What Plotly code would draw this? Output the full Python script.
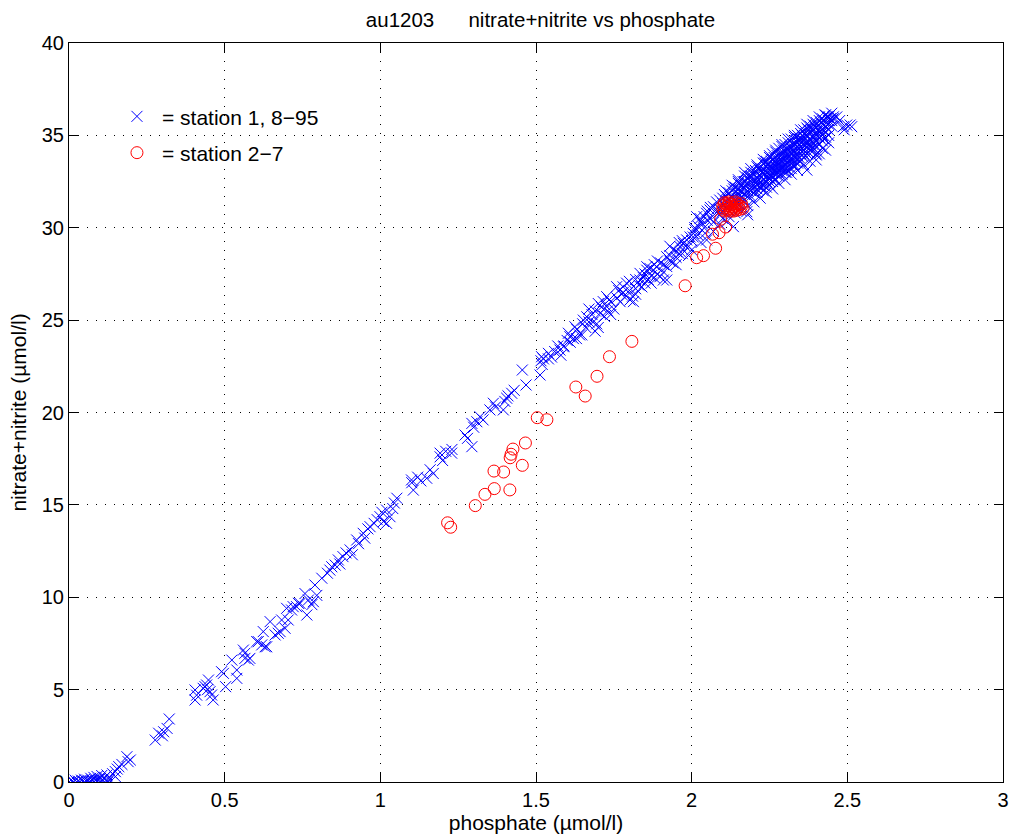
import plotly.graph_objects as go

# ---- station 1, 8-95 (blue x) : phosphate, nitrate+nitrite ----
st1_low = [
    (0.00, 0.0), (0.01, 0.05), (0.015, 0.0), (0.02, 0.1), (0.025, 0.0), (0.03, 0.05), (0.035, 0.0),
    (0.04, 0.1), (0.045, 0.05), (0.05, 0.0), (0.05, 0.15), (0.055, 0.05), (0.06, 0.1), (0.065, 0.0),
    (0.07, 0.2), (0.07, 0.05), (0.075, 0.1), (0.08, 0.0), (0.08, 0.25), (0.085, 0.1), (0.09, 0.05),
    (0.09, 0.3), (0.095, 0.15), (0.10, 0.0), (0.10, 0.2), (0.105, 0.35), (0.11, 0.1), (0.115, 0.25),
    (0.12, 0.05), (0.125, 0.0), (0.13, 0.15), (0.122, 0.38), (0.14, 0.45), (0.149, 0.29), (0.149, 0.56),
    (0.155, 0.7), (0.16, 0.83), (0.17, 0.95), (0.186, 1.37), (0.197, 1.19), (0.19, 1.1),
    (0.277, 2.27), (0.288, 2.64), (0.30, 2.5), (0.304, 2.72), (0.315, 2.9), (0.322, 3.41),
    (0.405, 4.44), (0.405, 4.98), (0.41, 4.7), (0.431, 5.07), (0.437, 5.16), (0.442, 5.25), (0.445, 5.0),
    (0.448, 5.52), (0.453, 4.89), (0.458, 4.71), (0.463, 4.44), (0.49, 5.97), (0.496, 5.88), (0.503, 5.16),
    (0.523, 6.6), (0.539, 6.06), (0.539, 5.61), (0.56, 7.14), (0.565, 6.97), (0.565, 6.69), (0.581, 6.69),
    (0.576, 6.6),
]
st1_mid = [
    (0.603, 7.6), (0.608, 7.6), (0.619, 7.42), (0.624, 8.14), (0.63, 7.32), (0.635, 7.32), (0.646, 8.68),
    (0.662, 7.96), (0.672, 8.05), (0.678, 8.14), (0.683, 8.77), (0.694, 8.32), (0.699, 9.4), (0.704, 8.77),
    (0.715, 9.31), (0.72, 9.49), (0.731, 9.49), (0.737, 9.67), (0.742, 9.67), (0.758, 10.2), (0.764, 9.04),
    (0.769, 9.85), (0.78, 9.6), (0.785, 9.76), (0.79, 10.66), (0.796, 10.1), (0.812, 11.03), (0.83, 11.3),
    (0.838, 11.47), (0.844, 11.65), (0.855, 11.74), (0.865, 12.02), (0.87, 11.8), (0.88, 12.2), (0.89, 12.4),
    (0.903, 12.56), (0.91, 12.3), (0.924, 13.1), (0.93, 12.9), (0.945, 13.46), (0.95, 13.2), (0.96, 13.7),
    (0.967, 13.82), (0.98, 14.0), (0.99, 14.2), (0.999, 14.36), (1.005, 14.6), (1.01, 14.1), (1.02, 14.72),
    (1.02, 14.0), (1.031, 14.36), (1.04, 14.8), (1.053, 15.36), (1.045, 15.1),
    (1.10, 16.35), (1.101, 16.2), (1.106, 15.8), (1.12, 16.5), (1.13, 16.3), (1.149, 16.44), (1.16, 16.9),
    (1.17, 16.7), (1.192, 17.6), (1.192, 17.8), (1.2, 17.4), (1.21, 17.9), (1.229, 17.8), (1.23, 18.0),
    (1.272, 18.78), (1.28, 18.6), (1.294, 18.15), (1.294, 19.41), (1.30, 19.2), (1.31, 19.5), (1.32, 19.77),
    (1.33, 19.6), (1.352, 20.14), (1.363, 20.5), (1.37, 20.3), (1.395, 20.14), (1.40, 20.6), (1.406, 20.77),
    (1.41, 20.9), (1.422, 21.04), (1.43, 21.2), (1.456, 22.3), (1.468, 21.49),
]
st1_upper = [
    (1.513, 22.03), (1.516, 22.8), (1.518, 23.02), (1.524, 22.9), (1.52, 22.6), (1.54, 22.9), (1.54, 23.2),
    (1.55, 23.0), (1.56, 23.3), (1.577, 23.38), (1.588, 23.56), (1.59, 23.6), (1.604, 24.29), (1.609, 24.1),
    (1.625, 24.64), (1.631, 24.5), (1.64, 24.2), (1.647, 24.2), (1.652, 25.0), (1.663, 25.18), (1.67, 24.9),
    (1.684, 24.9), (1.695, 24.8), (1.70, 24.6), (1.70, 25.9), (1.706, 25.37), (1.71, 25.7), (1.716, 26.0),
    (1.727, 25.73), (1.727, 26.27), (1.735, 26.1), (1.75, 25.6), (1.759, 26.81), (1.766, 26.6), (1.775, 26.4),
    (1.791, 27.0), (1.80, 26.6), (1.802, 26.09), (1.81, 26.3), (1.813, 26.0), (1.82, 26.7), (1.834, 27.17),
    (1.834, 27.53), (1.845, 27.3), (1.856, 27.7), (1.856, 27.89), (1.86, 27.2), (1.866, 27.8), (1.877, 27.71),
    (1.888, 27.89), (1.898, 27.35), (1.90, 28.1), (1.909, 27.17), (1.92, 27.17), (1.92, 28.43), (1.93, 28.2),
    (1.941, 28.8), (1.95, 28.4), (1.952, 28.7), (1.963, 28.97), (1.973, 29.16), (1.984, 29.34), (1.995, 29.5),
    (2.005, 29.7), (2.005, 29.5), (2.016, 30.6), (2.022, 30.06), (2.027, 30.5), (2.035, 30.2), (2.043, 29.7),
    (2.048, 30.78), (2.048, 29.34), (2.059, 30.96), (2.07, 31.14), (2.08, 31.4), (2.085, 30.8),
    (1.58, 23.1), (1.60, 23.9), (1.62, 24.0), (1.66, 24.6), (1.68, 25.3), (1.72, 25.2), (1.74, 26.0),
    (1.76, 26.2), (1.78, 26.8), (1.79, 26.3), (1.83, 26.9), (1.85, 27.0), (1.87, 27.4), (1.89, 27.5),
    (1.91, 28.0), (1.94, 28.1), (1.96, 28.6), (1.98, 29.0), (2.00, 29.3), (2.01, 29.9), (2.03, 30.3),
    (2.04, 30.0), (2.06, 30.5), (2.07, 30.3), (2.08, 31.0), (2.06, 31.1), (2.05, 30.4), (2.02, 29.6),
    (1.99, 29.0), (1.97, 28.6), (1.93, 28.5), (1.88, 27.3), (1.84, 26.8), (1.82, 27.2), (1.77, 26.0),
    (1.73, 25.5), (1.69, 25.5), (1.65, 24.8), (1.61, 23.8),
    (1.85, 27.5), (1.87, 27.0), (1.89, 28.2), (1.91, 27.6), (1.93, 29.0), (1.95, 28.0), (1.97, 29.3),
    (1.99, 28.5), (2.01, 30.0), (2.03, 29.2), (2.05, 30.9), (2.07, 29.8), (2.09, 30.2), (2.04, 30.6),
    (2.00, 28.8), (1.96, 29.2), (1.92, 27.9), (1.88, 28.0),
    (1.57, 23.6), (1.63, 24.0), (1.67, 25.6), (1.69, 24.4), (1.74, 25.3), (1.78, 26.5), (1.80, 27.1),
    (1.82, 26.4),
]
st1_deep = [
    (2.09, 31.0), (2.09, 31.5), (2.09, 30.7), (2.10, 31.3), (2.10, 30.9), (2.10, 31.6),
    (2.11, 31.1), (2.11, 31.7), (2.11, 31.4), (2.12, 31.2), (2.12, 31.9), (2.12, 31.5), (2.12, 30.9),
    (2.13, 31.6), (2.13, 31.3), (2.13, 32.0), (2.14, 31.5), (2.14, 31.9), (2.14, 31.2), (2.14, 32.2),
    (2.15, 31.8), (2.15, 32.1), (2.15, 31.4), (2.16, 31.7), (2.16, 32.3), (2.16, 32.0), (2.16, 31.5),
    (2.17, 32.1), (2.17, 31.8), (2.17, 32.5), (2.18, 32.0), (2.18, 32.4), (2.18, 31.7), (2.18, 32.7),
    (2.19, 32.3), (2.19, 32.0), (2.19, 32.8), (2.20, 32.2), (2.20, 32.6), (2.20, 32.9), (2.20, 31.9),
    (2.21, 32.5), (2.21, 32.1), (2.21, 33.0), (2.21, 32.7), (2.22, 32.4), (2.22, 32.8), (2.22, 33.1),
    (2.22, 32.2), (2.23, 32.6), (2.23, 33.2), (2.23, 32.9), (2.23, 32.3), (2.24, 32.8), (2.24, 33.3),
    (2.24, 32.5), (2.24, 33.0), (2.25, 33.1), (2.25, 32.7), (2.25, 33.5), (2.25, 32.9), (2.26, 33.0),
    (2.26, 33.4), (2.26, 32.8), (2.26, 33.7), (2.26, 33.2), (2.27, 33.3), (2.27, 32.9), (2.27, 33.6),
    (2.27, 33.1), (2.28, 33.5), (2.28, 33.2), (2.28, 33.8), (2.28, 33.0), (2.28, 33.4), (2.29, 33.6),
    (2.29, 33.3), (2.29, 34.0), (2.29, 33.1), (2.30, 33.7), (2.30, 33.4), (2.30, 34.1), (2.30, 33.2),
    (2.30, 33.9), (2.31, 33.8), (2.31, 34.2), (2.31, 33.5), (2.31, 33.3), (2.32, 34.0), (2.32, 33.7),
    (2.32, 34.3), (2.32, 33.5), (2.33, 34.1), (2.33, 33.8), (2.33, 34.5), (2.33, 33.6), (2.34, 34.2),
    (2.34, 34.6), (2.34, 33.9), (2.34, 34.4), (2.35, 34.4), (2.35, 34.0), (2.35, 34.8), (2.35, 34.2),
    (2.36, 34.5), (2.36, 34.9), (2.36, 34.2), (2.36, 34.7), (2.37, 34.6), (2.37, 35.0), (2.37, 34.4),
    (2.37, 34.93), (2.37, 33.12), (2.38, 34.8), (2.38, 35.1), (2.38, 34.5), (2.39, 34.9), (2.39, 35.3),
    (2.39, 34.6), (2.39, 34.5), (2.40, 35.0), (2.40, 35.4), (2.40, 34.7), (2.40, 33.67), (2.40, 33.94),
    (2.41, 35.2), (2.41, 35.3), (2.41, 34.9), (2.41, 34.0), (2.42, 35.3), (2.42, 35.6), (2.42, 35.0),
    (2.43, 35.5), (2.43, 35.74), (2.43, 34.2), (2.44, 35.6), (2.44, 35.3), (2.44, 36.0), (2.45, 35.8),
    (2.45, 35.5), (2.466, 36.0), (2.487, 35.47), (2.498, 35.56), (2.509, 35.56), (2.514, 35.47),
    (2.49, 35.3), (2.428, 36.1), (2.134, 30.06), (2.113, 30.33), (2.177, 30.87), (2.18, 30.7),
    (2.25, 32.3), (2.33, 33.3),
    (2.15, 32.5), (2.15, 31.2), (2.15, 32.4), (2.17, 31.5), (2.17, 32.8), (2.17, 32.3),
    (2.19, 31.7), (2.19, 33.0), (2.19, 32.5), (2.21, 31.9), (2.21, 33.3), (2.21, 32.3),
    (2.23, 32.0), (2.23, 33.5), (2.23, 33.0), (2.24, 32.2), (2.24, 33.6), (2.25, 33.8),
    (2.25, 32.5), (2.25, 33.3), (2.26, 32.5), (2.26, 34.0), (2.27, 32.6), (2.27, 34.1),
    (2.27, 33.5), (2.28, 32.8), (2.28, 34.3), (2.28, 33.6), (2.29, 32.9), (2.29, 34.4),
    (2.29, 33.8), (2.30, 33.0), (2.30, 34.5), (2.30, 33.6), (2.31, 33.1), (2.31, 34.6),
    (2.31, 34.0), (2.32, 33.2), (2.32, 34.8), (2.32, 34.1), (2.33, 33.4), (2.33, 34.9),
    (2.33, 34.2), (2.34, 33.5), (2.34, 35.0), (2.34, 33.7), (2.35, 33.6), (2.35, 35.1),
    (2.35, 34.6), (2.36, 33.8), (2.36, 35.3), (2.36, 34.0), (2.37, 34.0), (2.37, 35.4),
    (2.38, 34.2), (2.38, 35.5), (2.38, 34.0), (2.39, 34.3), (2.39, 35.6), (2.39, 35.0),
    (2.40, 34.4), (2.40, 35.7), (2.40, 35.2), (2.41, 34.5), (2.41, 35.8), (2.42, 34.7),
    (2.42, 35.9), (2.43, 34.9), (2.43, 35.2), (2.44, 35.0), (2.44, 35.8), (2.455, 35.9),
    (2.455, 36.0), (2.475, 35.8),
    (2.10, 30.5), (2.11, 32.0), (2.12, 30.6), (2.13, 32.3), (2.14, 30.8), (2.15, 32.6), (2.16, 30.9),
    (2.17, 33.0), (2.18, 31.2), (2.19, 33.2), (2.20, 31.4), (2.21, 33.4), (2.22, 31.6), (2.23, 33.7),
    (2.24, 31.9), (2.25, 33.9), (2.26, 32.1), (2.27, 34.2), (2.28, 32.4), (2.29, 34.5), (2.30, 32.6),
    (2.31, 34.8), (2.32, 32.9), (2.33, 35.0), (2.34, 33.1), (2.35, 35.3), (2.36, 33.4), (2.37, 35.6),
    (2.38, 33.6), (2.39, 35.8), (2.40, 34.0), (2.41, 36.0), (2.42, 34.3), (2.43, 36.1), (2.44, 34.6),
    (2.45, 36.2),
    (2.105, 31.8), (2.115, 31.0), (2.125, 31.7), (2.135, 32.1), (2.145, 31.6), (2.155, 32.0),
    (2.165, 32.5), (2.175, 31.9), (2.185, 32.8), (2.195, 32.1), (2.205, 33.1), (2.215, 32.6),
    (2.225, 33.0), (2.235, 32.4), (2.245, 33.4), (2.255, 32.8), (2.265, 33.8), (2.275, 33.0),
    (2.285, 34.0), (2.295, 33.4), (2.305, 34.3), (2.315, 33.7), (2.325, 34.5), (2.335, 34.0),
    (2.345, 34.8), (2.355, 34.3), (2.365, 35.1), (2.375, 34.6), (2.385, 35.3), (2.395, 34.8),
    (2.405, 35.5), (2.415, 35.1), (2.425, 35.8), (2.435, 35.4), (2.445, 35.9),
    (2.205, 32.4), (2.215, 33.2), (2.225, 32.2), (2.235, 33.5), (2.245, 32.7), (2.255, 33.6),
    (2.265, 32.6), (2.275, 33.9), (2.285, 33.2), (2.295, 34.2), (2.305, 33.0), (2.315, 34.4),
    (2.325, 33.4), (2.335, 34.7), (2.345, 33.8), (2.355, 35.0), (2.365, 34.1), (2.375, 35.3),
    (2.385, 34.3), (2.395, 35.5), (2.405, 34.6), (2.415, 35.7), (2.425, 34.8), (2.435, 36.0),
]
st1_points = st1_low + st1_mid + st1_upper + st1_deep
st1_phosphate = [p[0] for p in st1_points]
st1_nitrate = [p[1] for p in st1_points]

# ---- station 2-7 (red o) ----
st2_phosphate = [1.216, 1.226, 1.305, 1.336, 1.366, 1.416, 1.365, 1.396, 1.417, 1.420, 1.426, 1.456,
                 1.466, 1.504, 1.535, 1.628, 1.658, 1.696, 1.736, 1.808, 1.979, 2.016, 2.038, 2.077,
                 2.067, 2.088, 2.109, 2.093,
                 2.10, 2.10, 2.105, 2.11, 2.11, 2.115, 2.115, 2.12, 2.12, 2.125, 2.125, 2.13, 2.13,
                 2.135, 2.135, 2.14, 2.14, 2.145, 2.145, 2.15, 2.15, 2.155, 2.16, 2.16, 2.165, 2.12,
                 2.14, 2.105]
st2_nitrate = [14.03, 13.79, 14.96, 15.57, 15.88, 15.81, 16.83, 16.78, 17.55, 17.74, 18.02, 17.14,
               18.35, 19.72, 19.61, 21.38, 20.89, 21.96, 23.02, 23.85, 26.86, 28.38, 28.49, 28.89,
               29.65, 29.73, 30.04, 30.46,
               31.0, 31.2, 30.9, 31.1, 31.3, 30.95, 31.2, 31.05, 31.3, 30.9, 31.15, 31.0, 31.25,
               31.1, 30.9, 31.2, 31.0, 31.3, 30.95, 31.1, 31.25, 31.0, 31.15, 31.3, 31.05, 31.4,
               31.4, 31.35]

x_ticks = [0, 0.5, 1, 1.5, 2, 2.5, 3]
x_tick_labels = ["0", "0.5", "1", "1.5", "2", "2.5", "3"]
y_ticks = [0, 5, 10, 15, 20, 25, 30, 35, 40]
y_tick_labels = ["0", "5", "10", "15", "20", "25", "30", "35", "40"]

FONT = "Liberation Sans, Arial, Helvetica, sans-serif"
FS_TICK = 20
FS_LABEL = 21
FS_TITLE = 20.5

fig = go.Figure()
fig.add_trace(go.Scatter(
    x=st1_phosphate, y=st1_nitrate, mode="markers", name="= station 1, 8\u221295",
    legendgroup="a",
    marker=dict(symbol="x-thin-open", size=11, color="#0000ff", line=dict(color="#0000ff", width=1)),
))
fig.add_trace(go.Scatter(
    x=st2_phosphate, y=st2_nitrate, mode="markers", name="= station 2\u22127",
    legendgroup="b",
    marker=dict(symbol="circle-open", size=12, color="#ff0000", line=dict(color="#ff0000", width=1)),
))

axis_common = dict(
    showline=True, linecolor="black", linewidth=1, mirror="ticks",
    ticks="inside", ticklen=9, tickcolor="black", tickwidth=1,
    showgrid=True, gridcolor="black", gridwidth=1, griddash="1px,8px",
    zeroline=False, automargin=False,
    tickfont=dict(family=FONT, size=FS_TICK, color="black"),
)

fig.update_layout(
    width=1013, height=836,
    margin=dict(l=69, r=10, t=43, b=54, autoexpand=False),
    paper_bgcolor="white", plot_bgcolor="white",
    font=dict(family=FONT, size=FS_TICK, color="black"),
    title=dict(text="au1203" + "\u00a0" * 6 + "nitrate+nitrite vs phosphate",
               x=540.5 / 1013, xref="container", xanchor="center",
               y=1 - 20 / 836, yref="container", yanchor="middle",
               font=dict(family=FONT, size=FS_TITLE, color="black")),
    xaxis=dict(range=[0, 3], tickvals=x_ticks, ticktext=x_tick_labels,
               title=dict(text="phosphate (\u00b5mol/l)", standoff=3,
                          font=dict(family=FONT, size=FS_LABEL, color="black")),
               **axis_common),
    yaxis=dict(range=[0, 40], tickvals=y_ticks, ticktext=y_tick_labels,
               title=dict(text="nitrate+nitrite (\u00b5mol/l)", standoff=9,
                          font=dict(family=FONT, size=FS_LABEL, color="black")),
               **axis_common),
    showlegend=True,
    legend=dict(x=0.046, y=0.928, xanchor="left", yanchor="top",
                bgcolor="rgba(0,0,0,0)", borderwidth=0, itemwidth=40,
                traceorder="grouped", tracegroupgap=6,
                font=dict(family=FONT, size=FS_LABEL, color="black")),
)

fig.write_html(
    "out.html",
    config={"displayModeBar": False},
    post_script="document.body.style.margin='0px';document.body.style.overflow='hidden';",
)
